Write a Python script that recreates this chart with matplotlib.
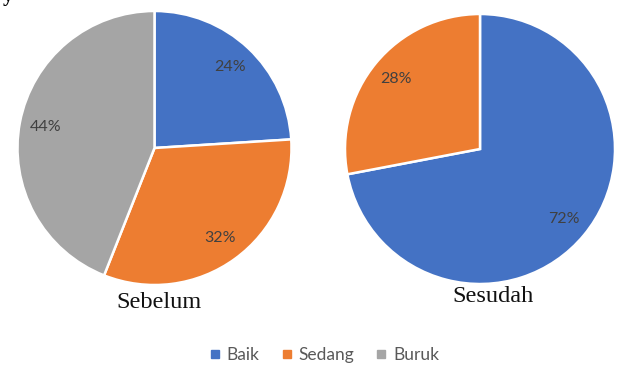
import matplotlib.pyplot as plt
from matplotlib.lines import Line2D

# data
categories = ['Baik', 'Sedang', 'Buruk']
sebelum = [24, 32, 44]
sesudah = [72, 28, 0]
titles = ['Sebelum', 'Sesudah']
colors = ['#4472C4', '#ED7D31', '#A5A5A5']

W, H = 625, 367
fig = plt.figure(figsize=(W / 100, H / 100), dpi=100)
ax = fig.add_axes([0, 0, 1, 1])


def pct(v):
    return '%d%%' % round(v) if v > 0.5 else ''


def draw_pie(values, center, radius):
    vals = [v for v in values if v > 0]
    cols = [c for v, c in zip(values, colors) if v > 0]
    wedges, texts, autotexts = ax.pie(
        vals, colors=cols, startangle=90, counterclock=False,
        center=center, radius=radius, autopct=pct, pctdistance=0.81,
        wedgeprops=dict(edgecolor='white', linewidth=1.8),
        textprops=dict(color='#404040', fontsize=11.5, family='Lato'))
    return wedges, autotexts


w1, t1 = draw_pie(sebelum, (154.5, H - 148), 137)
w2, t2 = draw_pie(sesudah, (480, H - 149), 135)

ax.set_xlim(0, W)
ax.set_ylim(0, H)
ax.set_aspect('equal')
ax.axis('off')

# captions under each pie
ax.text(159, H - 303, titles[0], ha='center', va='center',
        family='Liberation Serif', fontsize=17.5, color='#111111')
ax.text(493, H - 297, titles[1], ha='center', va='center',
        family='Liberation Serif', fontsize=17.5, color='#111111')

# cropped character from the text above the figure
fig.text(0.004, 1 - 1.5 / H, 'y', ha='left', va='baseline',
         family='Liberation Serif', fontsize=15, fontweight='bold')

handles = [Line2D([], [], marker='s', linestyle='none', markersize=6,
                  markerfacecolor=c, markeredgecolor=c) for c in colors]
leg = fig.legend(handles, categories, loc='center', ncol=3,
                 bbox_to_anchor=(324 / W, 1 - 355 / H), frameon=False,
                 handlelength=0.7, handletextpad=0.35, columnspacing=1.2,
                 prop=dict(family='Lato', size=12.5))
for t in leg.get_texts():
    t.set_color('#595959')

fig.savefig('out.png', dpi=100)
